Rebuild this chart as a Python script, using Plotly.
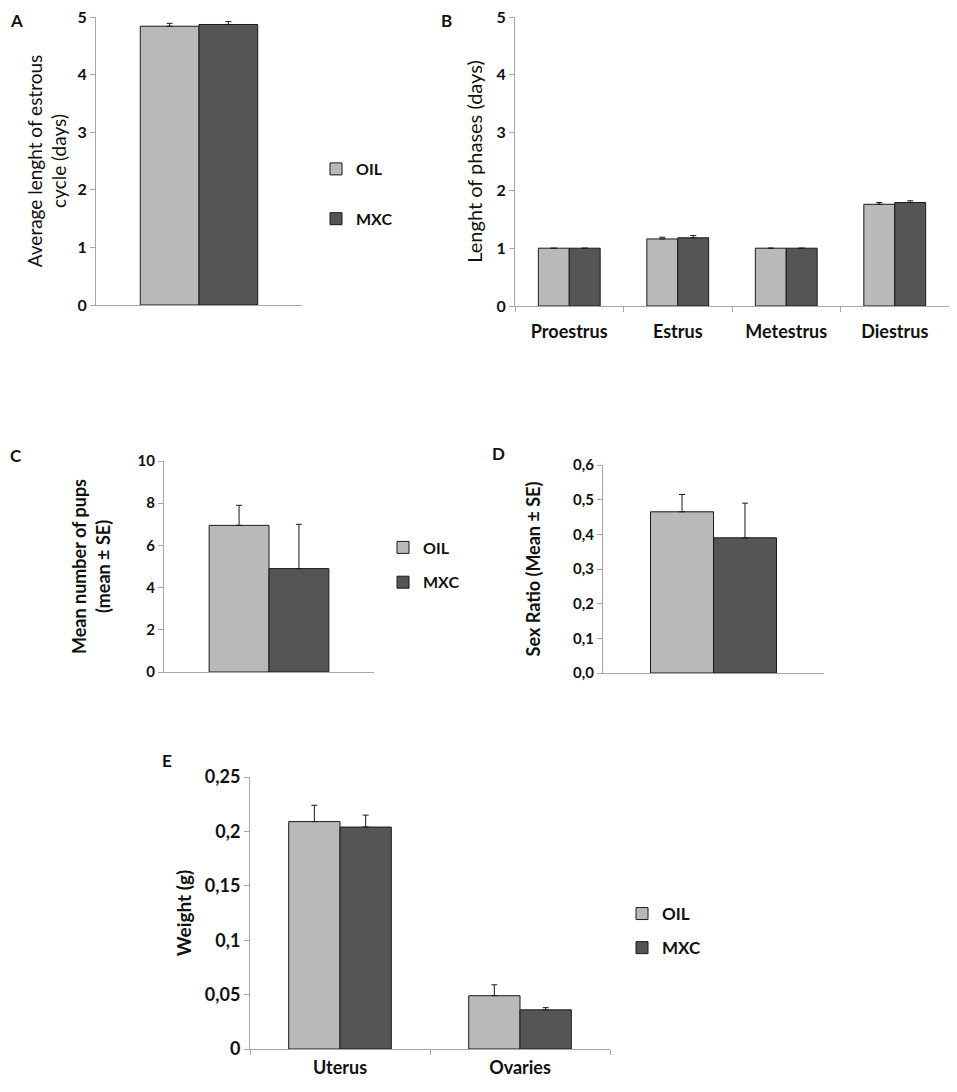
import plotly.graph_objects as go

# panel A - estrous cycle length
cycle_oil = [4.84]
cycle_oil_se = [0.05]
cycle_mxc = [4.87]
cycle_mxc_se = [0.05]

# panel B - phases
phases = ["Proestrus", "Estrus", "Metestrus", "Diestrus"]
phase_oil = [1.0, 1.16, 1.0, 1.76]
phase_oil_se = [0.0, 0.03, 0.0, 0.03]
phase_mxc = [1.0, 1.18, 1.0, 1.79]
phase_mxc_se = [0.0, 0.04, 0.0, 0.03]

# panel C - pups
pups_oil = [6.95]
pups_oil_se = [0.95]
pups_mxc = [4.9]
pups_mxc_se = [2.1]

# panel D - sex ratio
sex_oil = [0.465]
sex_oil_se = [0.05]
sex_mxc = [0.39]
sex_mxc_se = [0.10]

# panel E - organ weight
organs = ["Uterus", "Ovaries"]
weight_oil = [0.209, 0.049]
weight_oil_se = [0.015, 0.010]
weight_mxc = [0.204, 0.036]
weight_mxc_se = [0.011, 0.002]

OIL_COLOR = "#b9b9b9"
MXC_COLOR = "#555555"
AXIS_COLOR = "#a6a6a6"
INK = "#111111"
FONT = "Lato"

fig = go.Figure()


def add_pair(xa, ya, x, oil, oil_se, mxc, mxc_se, legend, show):
    for name, vals, se, col in [("OIL", oil, oil_se, OIL_COLOR), ("MXC", mxc, mxc_se, MXC_COLOR)]:
        fig.add_trace(go.Bar(
            x=x, y=vals, name=name, xaxis=xa, yaxis=ya,
            marker=dict(color=col, line=dict(color="#1a1a1a", width=1)),
            error_y=dict(type="data", array=se, arrayminus=[0] * len(se), symmetric=False,
                         color="#1a1a1a", thickness=1, width=3),
            legend=legend, legendgroup=legend + name, showlegend=show,
        ))


add_pair("x", "y", [0], cycle_oil, cycle_oil_se, cycle_mxc, cycle_mxc_se, "legend", True)
add_pair("x2", "y2", list(range(len(phases))), phase_oil, phase_oil_se, phase_mxc, phase_mxc_se, "legend", False)
add_pair("x3", "y3", [0], pups_oil, pups_oil_se, pups_mxc, pups_mxc_se, "legend2", True)
add_pair("x4", "y4", [0], sex_oil, sex_oil_se, sex_mxc, sex_mxc_se, "legend2", False)
add_pair("x5", "y5", list(range(len(organs))), weight_oil, weight_oil_se, weight_mxc, weight_mxc_se, "legend3", True)

# page has an 8px body margin, so the figure is a bit smaller than the window
OFF = 8
W, H = 941, 1076


def px(a, b):
    return [max((a - OFF) / W, 0), min((b - OFF) / W, 1)]


def py(bottom, top):
    return [1 - (bottom - OFF) / H, min(1 - (top - OFF) / H, 1)]


def pt(x, y):
    return max((x - OFF) / W, 0), min(1 - (y - OFF) / H, 1)


yax = dict(showgrid=False, zeroline=False, showline=True, linecolor=AXIS_COLOR, linewidth=1,
           ticks="outside", ticklen=5, tickcolor=AXIS_COLOR, automargin=False,
           ticklabeloverflow="allow")
xax = dict(showgrid=False, zeroline=False, showline=True, linecolor=AXIS_COLOR, linewidth=1,
           ticks="", fixedrange=True, automargin=False)


def bold(size):
    return dict(family=FONT, size=size, color=INK, weight="bold")


def plain(size):
    return dict(family=FONT, size=size, color=INK)


lgA = pt(316, 194)
lgC = pt(383, 565)
lgE = pt(622, 931)

fig.update_layout(
    width=W, height=H, margin=dict(l=0, r=0, t=0, b=0),
    plot_bgcolor="white", paper_bgcolor="white",
    barmode="group", bargap=0.43, bargroupgap=0,
    separators=",.",
    font=dict(family=FONT, color=INK),
    xaxis=dict(xax, domain=px(96, 302), range=[-0.5, 0.5], showticklabels=False, anchor="y"),
    yaxis=dict(yax, domain=py(305, 17), range=[0, 5], dtick=1, tickfont=bold(16), anchor="x",
               title=dict(text="Average lenght of estrous<br>cycle (days)", standoff=5, font=plain(19))),
    xaxis2=dict(xax, domain=px(515, 953), range=[-0.5, 3.5], anchor="y2",
                tickvals=list(range(len(phases))), ticktext=phases, tickfont=bold(18),
                ticklabelstandoff=9,
                minor=dict(tickvals=[i - 0.5 for i in range(len(phases) + 1)], ticks="outside",
                           ticklen=5, tickcolor=AXIS_COLOR)),
    yaxis2=dict(yax, domain=py(306, 17), range=[0, 5], dtick=1, tickfont=bold(16), anchor="x2",
                title=dict(text="Lenght of phases (days)", standoff=8, font=plain(20))),
    xaxis3=dict(xax, domain=px(164, 374), range=[-0.5, 0.5], showticklabels=False, anchor="y3"),
    yaxis3=dict(yax, domain=py(672, 461), range=[0, 10], dtick=2, tickfont=bold(15), anchor="x3",
                title=dict(text="Mean number of pups<br>(mean ± SE)", standoff=22, font=bold(18))),
    xaxis4=dict(xax, domain=px(603, 824), range=[-0.5, 0.5], showticklabels=False, anchor="y4"),
    yaxis4=dict(yax, domain=py(673, 465), range=[0, 0.6], dtick=0.1, tickformat=".1f",
                tickfont=bold(15), anchor="x4",
                title=dict(text="Sex Ratio (Mean ± SE)", standoff=27, font=bold(18))),
    xaxis5=dict(xax, domain=px(250, 610), range=[-0.5, 1.5], anchor="y5",
                tickvals=list(range(len(organs))), ticktext=organs, tickfont=bold(18),
                ticklabelstandoff=2,
                minor=dict(tickvals=[i - 0.5 for i in range(len(organs) + 1)], ticks="outside",
                           ticklen=5, tickcolor=AXIS_COLOR)),
    yaxis5=dict(yax, domain=py(1049, 777), range=[0, 0.25], dtick=0.05, tickfont=bold(18), anchor="x5",
                title=dict(text="Weight (g)", standoff=8, font=bold(19))),
    legend=dict(x=lgA[0], y=lgA[1], xanchor="left", yanchor="middle", tracegroupgap=26,
                font=bold(16), bgcolor="rgba(0,0,0,0)"),
    legend2=dict(x=lgC[0], y=lgC[1], xanchor="left", yanchor="middle", tracegroupgap=11,
                 font=bold(16), bgcolor="rgba(0,0,0,0)"),
    legend3=dict(x=lgE[0], y=lgE[1], xanchor="left", yanchor="middle", tracegroupgap=9,
                 font=bold(17), bgcolor="rgba(0,0,0,0)"),
)

for letter, lx, ly, anchor in [("A", 8, 8, "top"), ("B", 439, 8, "top"), ("C", 8, 455, "middle"),
                               ("D", 490, 453, "middle"), ("E", 160, 760, "middle")]:
    ax, ay = pt(lx, ly)
    fig.add_annotation(text=letter, x=ax, y=ay, xref="paper", yref="paper",
                       xanchor="left", yanchor=anchor, showarrow=False, font=bold(17))

fig.write_html("out.html")
